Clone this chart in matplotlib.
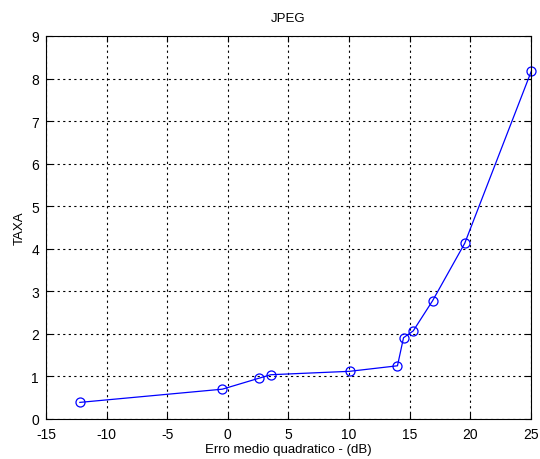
import matplotlib
matplotlib.use("Agg")
import matplotlib.pyplot as plt

erro = [-12.2, -0.45, 2.6, 3.55, 10.05, 14.0, 14.5, 15.3, 16.9, 19.55, 25.05]
taxa = [0.39, 0.70, 0.96, 1.04, 1.12, 1.25, 1.91, 2.07, 2.78, 4.13, 8.18]

xticks = [-15, -10, -5, 0, 5, 10, 15, 20, 25]
yticks = [0, 1, 2, 3, 4, 5, 6, 7, 8, 9]

plt.rcParams['font.family'] = ['Liberation Sans', 'DejaVu Sans']
plt.rcParams['axes.unicode_minus'] = False
fig = plt.figure(figsize=(5.4, 4.6), dpi=100, facecolor='white')
ax = fig.add_axes([0.085, 0.087, 0.898, 0.8326])
ax.plot(erro, taxa, color='blue', linewidth=0.9, marker='o', markersize=6.5,
        markerfacecolor='none', markeredgecolor='blue', markeredgewidth=0.9, clip_on=False)
ax.set_xlim(-15, 25)
ax.set_ylim(0, 9)
ax.set_xticks(xticks)
ax.set_yticks(yticks)
ax.tick_params(direction='in', labelsize=10, length=4, width=0.8, top=True, right=True)
ax.tick_params(axis='x', pad=6)
ax.tick_params(axis='y', pad=5)
ax.grid(True, color='black', linestyle=(0, (2, 3)), linewidth=0.8)
for s in ax.spines.values():
    s.set_linewidth(0.8)
ax.set_title('JPEG', fontsize=9.5, pad=11)
ax.set_xlabel('Erro medio quadratico - (dB)', fontsize=9.5, labelpad=1)
ax.set_ylabel('TAXA', fontsize=9.5, labelpad=4)
fig.savefig('out.png', dpi=100, facecolor='white')
